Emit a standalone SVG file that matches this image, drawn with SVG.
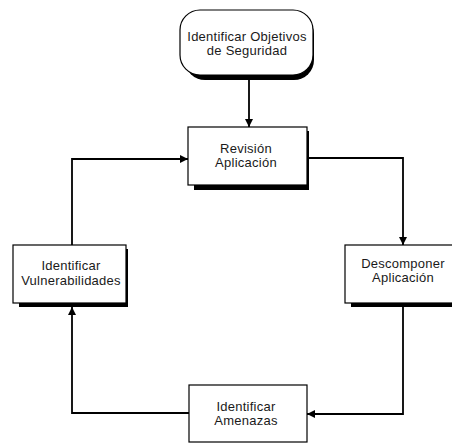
<svg xmlns="http://www.w3.org/2000/svg" width="452" height="443" viewBox="0 0 452 443">
  <style>
    .box { fill: #ffffff; stroke: #000000; stroke-width: 1.2; }
    .shadow { fill: #000000; }
    .label { font-family: "Liberation Sans", Arial, sans-serif; font-size: 13px; letter-spacing: 0.25px; fill: #1a1a1a; text-anchor: middle; }
    .link { fill: none; stroke: #000000; stroke-width: 1.8; }
  </style>
  <defs>
    <marker id="arrow" viewBox="0 0 10 10" refX="10" refY="5" markerWidth="9" markerHeight="8" markerUnits="userSpaceOnUse" orient="auto">
      <path d="M0,0 L10,5 L0,10 Z" fill="#000000"/>
    </marker>
  </defs>
  <rect width="452" height="443" fill="#ffffff"/>

  <!-- connectors -->
  <g id="connectors">
    <path class="link" d="M249,80 L249,127" marker-end="url(#arrow)"/>
    <path class="link" d="M307,158 L403,158 L403,245" marker-end="url(#arrow)"/>
    <path class="link" d="M403,307 L403,414 L307,414" marker-end="url(#arrow)"/>
    <path class="link" d="M189,413 L72,413 L72,307" marker-end="url(#arrow)"/>
    <path class="link" d="M72,245 L72,159 L188,159" marker-end="url(#arrow)"/>
  </g>

  <!-- start terminator -->
  <g id="objetivos">
    <rect class="shadow" x="185" y="14" width="129" height="66" rx="20" ry="20"/>
    <rect class="box" x="180" y="10" width="133" height="65" rx="20" ry="20"/>
    <text class="label" x="247" y="41">Identificar Objetivos</text>
    <text class="label" x="247" y="55">de Seguridad</text>
  </g>

  <g id="revision">
    <rect class="shadow" x="194" y="131" width="115" height="59"/>
    <rect class="box" x="188" y="127" width="119" height="58"/>
    <text class="label" x="246" y="153">Revisión</text>
    <text class="label" x="246" y="167">Aplicación</text>
  </g>

  <g id="descomponer">
    <rect class="shadow" x="351" y="249" width="116" height="58"/>
    <rect class="box" x="345" y="245" width="116" height="58"/>
    <text class="label" x="403" y="268">Descomponer</text>
    <text class="label" x="403" y="282">Aplicación</text>
  </g>

  <g id="amenazas">
    <rect class="box" x="189" y="385" width="118" height="57"/>
    <text class="label" x="246" y="411">Identificar</text>
    <text class="label" x="246" y="425">Amenazas</text>
  </g>

  <g id="vulnerabilidades">
    <rect class="shadow" x="19" y="249" width="109" height="58"/>
    <rect class="box" x="13" y="245" width="113" height="58"/>
    <text class="label" x="71" y="270">Identificar</text>
    <text class="label" x="71" y="285">Vulnerabilidades</text>
  </g>
</svg>
